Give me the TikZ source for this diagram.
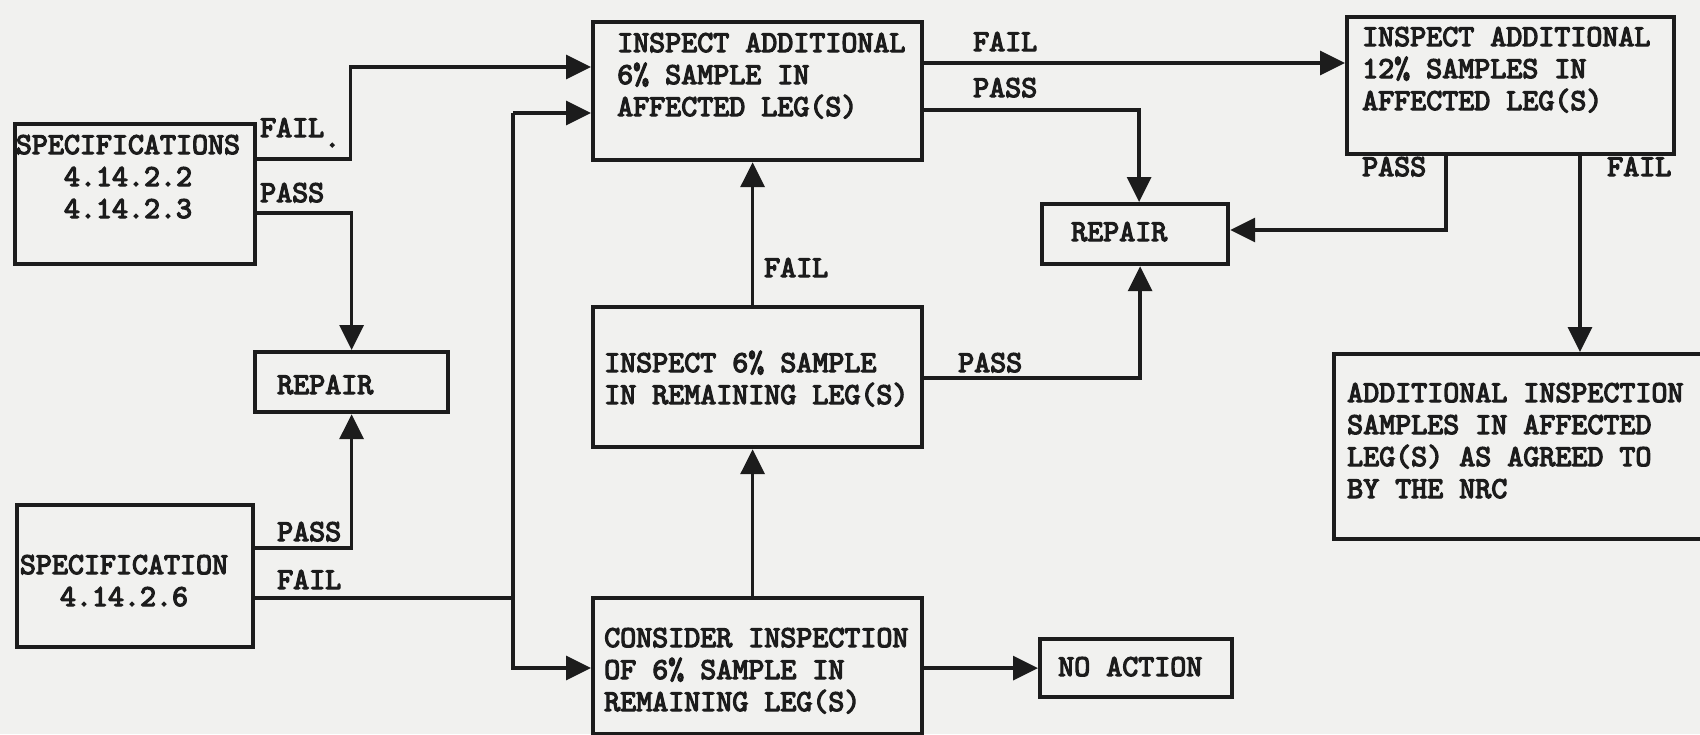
\documentclass[tikz,border=0pt]{standalone}
\usepackage{fontspec}
\newfontfamily\tw{lmmono10-regular}[Extension=.otf,FakeBold=4]
\usetikzlibrary{arrows.meta,calc}
\definecolor{ink}{RGB}{28,28,28}
\definecolor{paper}{RGB}{241,241,239}
\newcommand\tlines[1]{\begin{tabular}[t]{@{}l@{}}#1\end{tabular}}
\newcommand\clines[1]{\begin{tabular}[t]{@{}c@{}}#1\end{tabular}}
\begin{document}
\begin{tikzpicture}[x=1pt,y=-1pt,
  box/.style={draw=ink,line width=4.2pt,anchor=north west,inner sep=0pt},
  txt/.style={font=\tw\fontsize{30.5}{32}\selectfont,text=ink,inner sep=0pt,anchor=base west},
  arr/.style={draw=ink,line width=3.4pt,-{Triangle[length=25pt,width=24pt]}},
  ln/.style={draw=ink,line width=3.4pt}]
\fill[paper] (0,0) rectangle (1700,734);
\useasboundingbox (0,0) rectangle (1700,734);

% boxes
\node[box,minimum width=240pt,minimum height=140pt] (s1) at (13,122) {};
\node[box,minimum width=193pt,minimum height=60pt] (rep1) at (253,350) {};
\node[box,minimum width=236pt,minimum height=142pt] (s2) at (15,503) {};
\node[box,minimum width=329pt,minimum height=138pt] (ia6) at (591,20) {};
\node[box,minimum width=329pt,minimum height=140pt] (i6) at (591,305) {};
\node[box,minimum width=329pt,minimum height=136pt] (cons) at (591,596) {};
\node[box,minimum width=186pt,minimum height=60pt] (rep2) at (1040,202) {};
\node[box,minimum width=327pt,minimum height=137pt] (ia12) at (1345,15) {};
\node[box,minimum width=192pt,minimum height=58pt] (na) at (1038,637) {};
\node[box,minimum width=420pt,minimum height=185pt] (b4) at (1332,352) {};

% box texts
\node[txt,anchor=base] (s1t) at (128,154) {\clines{SPECIFICATIONS\\4.14.2.2\\4.14.2.3}};
\node[txt,anchor=base] (s2t) at (124,574) {\clines{SPECIFICATION\\4.14.2.6}};
\node[txt] (rep1t) at (277,394) {REPAIR};
\node[txt] (ia6t) at (617,52) {\tlines{INSPECT ADDITIONAL\\6\% SAMPLE IN\\AFFECTED LEG(S)}};
\node[txt] (i6t) at (604,372) {\tlines{INSPECT 6\% SAMPLE\\IN REMAINING LEG(S)}};
\node[txt] (const) at (604,647) {\tlines{CONSIDER INSPECTION\\OF 6\% SAMPLE IN\\REMAINING LEG(S)}};
\node[txt] (rep2t) at (1071,241) {REPAIR};
\node[txt] (ia12t) at (1362,46) {\tlines{INSPECT ADDITIONAL\\12\% SAMPLES IN\\AFFECTED LEG(S)}};
\node[txt] (nat) at (1058,676) {NO ACTION};
\node[txt] (b4t) at (1347,402) {\tlines{ADDITIONAL INSPECTION\\SAMPLES IN AFFECTED\\LEG(S) AS AGREED TO\\BY THE NRC}};

% labels
\node[txt] (l1) at (260,137) {FAIL\raisebox{-10pt}{.}};
\node[txt] (l2) at (260,202) {PASS};
\node[txt] (l3) at (277,541) {PASS};
\node[txt] (l4) at (277,589) {FAIL};
\node[txt] (l5) at (973,51) {FAIL};
\node[txt] (l6) at (973,97) {PASS};
\node[txt] (l7) at (764,277) {FAIL};
\node[txt] (l8) at (958,372) {PASS};
\node[txt] (l9) at (1362,176) {PASS};
\node[txt] (l10) at (1607,176) {FAIL};

% connectors
\draw[arr] ([yshift=-37pt]s1.north east) -- ++(93,0) |- ([yshift=-47pt]ia6.north west);
\draw[arr] ([yshift=-91pt]s1.north east) -| (rep1.north);
\draw[arr] ([yshift=-45pt]s2.north east) -| (rep1.south);

\coordinate (ja) at ([xshift=-78pt,yshift=-93pt]ia6.north west);
\coordinate (jb) at ([xshift=-78pt,yshift=-72pt]cons.north west);
\coordinate (s2f) at ([yshift=-95pt]s2.north east);
\draw[ln] (s2f) -- (s2f -| ja);
\draw[arr] (ja) -- ([yshift=-93pt]ia6.north west);
\draw[arr] (ja) -- (jb) -- ([yshift=-72pt]cons.north west);

\coordinate (ia6f) at ([yshift=-43pt]ia6.north east);
\draw[arr] (ia6f) -- (ia6f -| ia12.west);
\draw[arr] ([yshift=-90pt]ia6.north east) -| ([xshift=4pt]rep2.north);
\draw[arr] ([xshift=-5pt]i6.north) -- ([xshift=-5pt]ia6.south);
\draw[arr] ([xshift=-5pt]cons.north) -- ([xshift=-5pt]i6.south);
\draw[arr] ([yshift=-73pt]i6.north east) -| ([xshift=5pt]rep2.south);
\draw[arr] ([xshift=101pt]ia12.south west) |- ([yshift=-28pt]rep2.north east);
\coordinate (p12) at ([xshift=235pt]ia12.south west);
\draw[arr] (p12) -- (p12 |- b4.north);
\draw[arr] (cons.east |- na.west) -- (na.west);
\end{tikzpicture}
\end{document}
